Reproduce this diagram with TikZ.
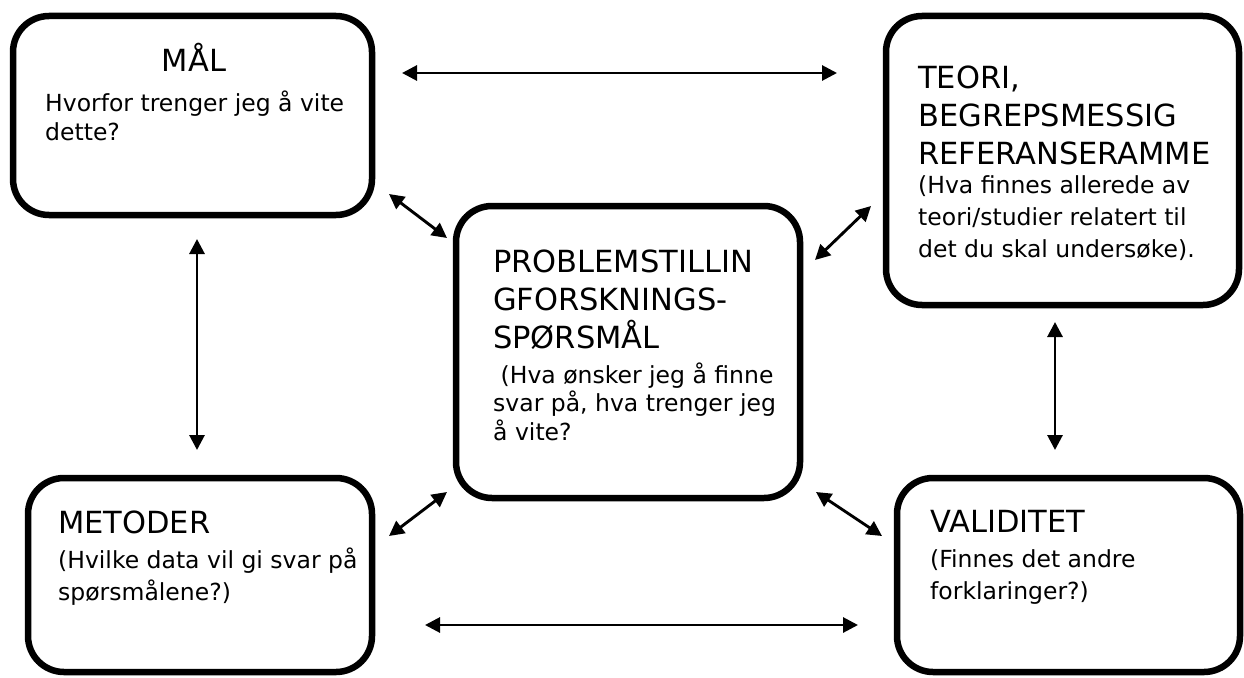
\documentclass[tikz,border=0pt]{standalone}
\usepackage{fontspec}
\setmainfont{DejaVu Sans}
\usetikzlibrary{arrows.meta}
\begin{document}
\begin{tikzpicture}[x=1pt,y=-1pt,
  box/.style={draw, line width=6.5pt, rounded corners=36pt, inner sep=0pt},
  % multi-line texts sit on the baseline of their last line
  head/.style={anchor=base west, inner sep=0pt, align=left,
    font=\fontsize{30.5}{38}\selectfont},
  body/.style={anchor=base west, inner sep=0pt, align=left,
    font=\fontsize{23.5}{28.5}\selectfont},
  wide/.style={font=\fontsize{23.5}{32}\selectfont},
  link/.style={line width=2.9pt,
    {Triangle[length=15pt,width=15pt]}-{Triangle[length=15pt,width=15pt]}}]
\useasboundingbox (0,0) rectangle (1244,677);

% the five boxes
\node[box, minimum width=359pt, minimum height=199pt] (mal)  at (192.5,115.5) {};
\node[box, minimum width=353pt, minimum height=289pt] (teori) at (1062.5,160.5) {};
\node[box, minimum width=344pt, minimum height=292pt] (prob) at (628,352) {};
\node[box, minimum width=344pt, minimum height=194pt] (metode) at (200,575) {};
\node[box, minimum width=343pt, minimum height=194pt] (valid) at (1068.5,575) {};

% texts
\node[head, anchor=base] (malH) at (194,71) {MÅL};
\node[body] (malT) at (45,140) {Hvorfor trenger jeg å vite\\dette?};

\node[head] (teoriH) at (918,164) {TEORI,\\BEGREPSMESSIG\\REFERANSERAMME};
\node[body, wide] (teoriT) at (918,257) {(Hva finnes allerede av\\teori/studier relatert til\\det du skal undersøke).};

\node[head] (probH) at (493,348) {PROBLEMSTILLIN\\GFORSKNINGS-\\SPØRSMÅL};
\node[body] (probT) at (493,440) {\ (Hva ønsker jeg å finne\\svar på, hva trenger jeg\\å vite?};

\node[head] (metodeH) at (58,533) {METODER};
\node[body, wide] (metodeT) at (58,600) {(Hvilke data vil gi svar på\\spørsmålene?)};

\node[head] (validH) at (930,532) {VALIDITET};
\node[body, wide] (validT) at (930,599) {(Finnes det andre\\forklaringer?)};

% free ends of the connectors
\coordinate (t1) at (402,73);   \coordinate (t2) at (837,73);
\coordinate (b1) at (425,625);  \coordinate (b2) at (858,625);
\coordinate (l1) at (197,239);  \coordinate (l2) at (197,450);
\coordinate (r1) at (1055,322); \coordinate (r2) at (1055,450);
\coordinate (d1) at (389,194);  \coordinate (d2) at (447,238);
\coordinate (e1) at (871,206);  \coordinate (e2) at (815,260);
\coordinate (f1) at (447,492);  \coordinate (f2) at (389,536);
\coordinate (g1) at (816,492);  \coordinate (g2) at (882,536);

% connectors
\draw[link] (t1) -- (t2);
\draw[link] (b1) -- (b2);
\draw[link] (l1) -- (l2);
\draw[link] (r1) -- (r2);
\draw[link] (d1) -- (d2);
\draw[link] (e1) -- (e2);
\draw[link] (f1) -- (f2);
\draw[link] (g1) -- (g2);
\end{tikzpicture}
\end{document}
